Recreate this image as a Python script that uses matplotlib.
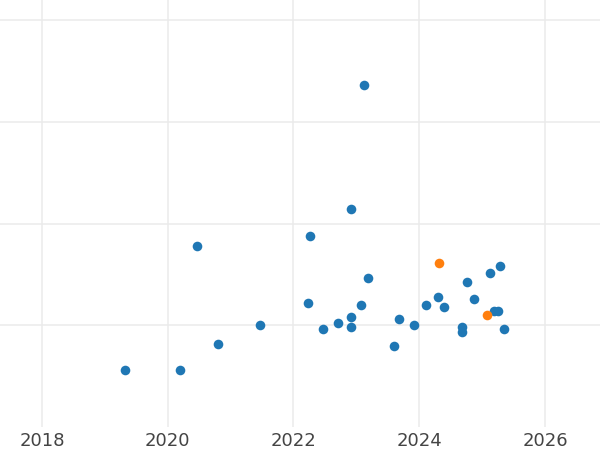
import matplotlib
matplotlib.use("Agg")
import matplotlib.pyplot as plt

# Data (x: year, y: value in arbitrary units; gridlines at 1,2,3,4)
blue_x = [2019.325, 2020.195, 2020.470, 2020.804, 2021.472, 2022.236, 2022.268,
          2022.470, 2022.708, 2022.915, 2022.915, 2022.915, 2023.069, 2023.117,
          2023.190, 2023.594, 2023.686, 2023.917, 2024.113, 2024.299, 2024.399,
          2024.681, 2024.681, 2024.760, 2024.876, 2025.126, 2025.194, 2025.248,
          2025.280, 2025.353]
blue_y = [0.561, 0.561, 1.779, 0.819, 1.000, 1.216, 1.881,
          0.961, 1.020, 2.140, 1.082, 0.980, 1.200, 3.362,
          1.462, 0.801, 1.062, 1.000, 1.200, 1.278, 1.177,
          0.980, 0.934, 1.423, 1.258, 1.517, 1.141, 1.141,
          1.583, 0.961]
orange_x = [2024.315, 2025.078]
orange_y = [1.615, 1.098]

x_ticks = [2018, 2020, 2022, 2024, 2026]
y_grid = [1, 2, 3, 4]

fig = plt.figure(figsize=(6, 4.5), dpi=100)
ax = fig.add_axes([0, 23 / 450, 1, 427 / 450])
ax.set_facecolor("white")

ax.scatter(blue_x, blue_y, s=48, color="#1f77b4", linewidths=0, zorder=3)
ax.scatter(orange_x, orange_y, s=48, color="#ff7f0e", linewidths=0, zorder=3)

ax.set_xlim(2017.332, 2026.875)
ax.set_ylim(0.0, 4.197)
ax.set_xticks(x_ticks)
ax.set_xticklabels([str(t) for t in x_ticks])
ax.set_yticks(y_grid)
ax.tick_params(axis="y", left=False, labelleft=False)
ax.tick_params(axis="x", length=0, pad=3.5, labelsize=13, labelcolor="#444444")
ax.grid(True, color="#ebebeb", linewidth=1.1, zorder=0)
for s in ax.spines.values():
    s.set_visible(False)

fig.savefig("out.png", dpi=100)
